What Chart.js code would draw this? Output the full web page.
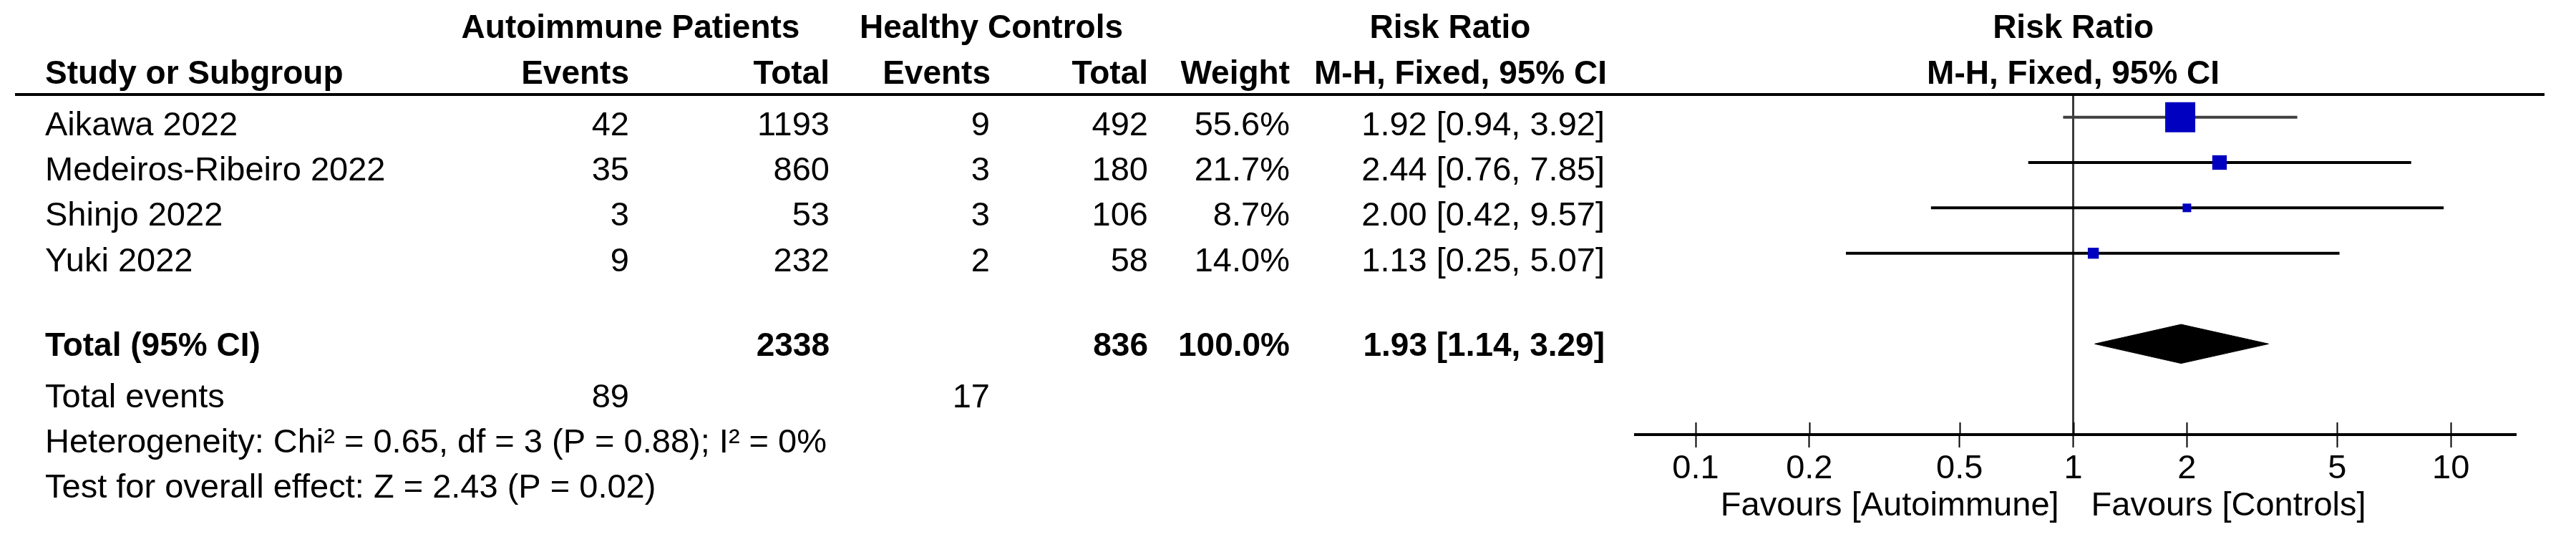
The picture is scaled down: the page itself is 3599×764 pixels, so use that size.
<!DOCTYPE html>
<html>
<head>
<meta charset="utf-8">
<title>Risk Ratio forest plot</title>
<script src="https://cdn.jsdelivr.net/npm/chart.js@4.4.1/dist/chart.umd.min.js"></script>
<style>
    html, body { margin: 0; padding: 0; background: #fff; }
    #wrap { width: 3599px; height: 764px; position: relative; }
</style>
</head>
<body>
<div id="wrap"><canvas id="forestChart"></canvas></div>
<script>
const studies = ['Aikawa 2022', 'Medeiros-Ribeiro 2022', 'Shinjo 2022', 'Yuki 2022'];
const autoEvents = [42, 35, 3, 9];
const autoTotal = [1193, 860, 53, 232];
const ctrlEvents = [9, 3, 3, 2];
const ctrlTotal = [492, 180, 106, 58];
const weights = [55.6, 21.7, 8.7, 14.0];
const riskRatio = [1.92, 2.44, 2.00, 1.13];
const ciLower = [0.94, 0.76, 0.42, 0.25];
const ciUpper = [3.92, 7.85, 9.57, 5.07];

// pooled estimate: [estimate, lower, upper]
const pooled = [1.93, 1.14, 3.29];
const tickValues = [0.1, 0.2, 0.5, 1, 2, 5, 10];
const tickLabels = ['0.1', '0.2', '0.5', '1', '2', '5', '10'];
const footerNotes = [
    'Heterogeneity: Chi\u00b2 = 0.65, df = 3 (P = 0.88); I\u00b2 = 0%',
    'Test for overall effect: Z = 2.43 (P = 0.02)'
];
const favourLabels = ['Favours [Autoimmune]', 'Favours [Controls]'];

const FONT = '"Liberation Sans", Arial, sans-serif';
const bold = `bold 46px ${FONT}`;
const normal = `47px ${FONT}`;
const TOTAL_ROW = 5;

const sum = arr => arr.reduce((a, b) => a + b, 0);
const fmt = v => v.toFixed(2);

// --- table text + small tick marks above the axis ---
const forestTable = {
    id: 'forestTable',
    afterDraw(chart) {
        const { ctx, scales: { x, y } } = chart;
        const one = x.getPixelForValue(1);
        const put = (txt, px, py, align, font) => {
            ctx.font = font;
            ctx.textAlign = align;
            ctx.fillText(txt, px, py);
        };
        ctx.save();
        ctx.fillStyle = '#000';
        ctx.textBaseline = 'alphabetic';

        // headers
        put('Autoimmune Patients', 881, 53, 'center', bold);
        put('Healthy Controls', 1385, 53, 'center', bold);
        put('Risk Ratio', 2026, 53, 'center', bold);
        put('Risk Ratio', one, 53, 'center', bold);
        put('Study or Subgroup', 63, 117, 'left', bold);
        put('Events', 879, 117, 'right', bold);
        put('Total', 1159, 117, 'right', bold);
        put('Events', 1384, 117, 'right', bold);
        put('Total', 1604, 117, 'right', bold);
        put('Weight', 1802, 117, 'right', bold);
        put('M-H, Fixed, 95% CI', 2245, 117, 'right', bold);
        put('M-H, Fixed, 95% CI', one, 117, 'center', bold);
        ctx.fillRect(21, 130, 3534, 4);

        // study rows
        studies.forEach((s, i) => {
            const py = y.getPixelForValue(i) + 25;
            put(s, 63, py, 'left', normal);
            put(String(autoEvents[i]), 879, py, 'right', normal);
            put(String(autoTotal[i]), 1159, py, 'right', normal);
            put(String(ctrlEvents[i]), 1383, py, 'right', normal);
            put(String(ctrlTotal[i]), 1604, py, 'right', normal);
            put(weights[i].toFixed(1) + '%', 1802, py, 'right', normal);
            put(`${fmt(riskRatio[i])} [${fmt(ciLower[i])}, ${fmt(ciUpper[i])}]`, 2242, py, 'right', normal);
        });

        // total row
        let py = y.getPixelForValue(TOTAL_ROW) + 17;
        put('Total (95% CI)', 63, py, 'left', bold);
        put(String(sum(autoTotal)), 1159, py, 'right', bold);
        put(String(sum(ctrlTotal)), 1604, py, 'right', bold);
        put(sum(weights).toFixed(1) + '%', 1802, py, 'right', bold);
        put(`${fmt(pooled[0])} [${fmt(pooled[1])}, ${fmt(pooled[2])}]`, 2242, py, 'right', bold);

        py = y.getPixelForValue(TOTAL_ROW + 1) + 25;
        put('Total events', 63, py, 'left', normal);
        put(String(sum(autoEvents)), 879, py, 'right', normal);
        put(String(sum(ctrlEvents)), 1383, py, 'right', normal);
        footerNotes.forEach((t, k) => {
            put(t, 63, y.getPixelForValue(TOTAL_ROW + 2 + k) + 25, 'left', normal);
        });

        // favours labels under the axis
        put(favourLabels[0], one - 20, 720, 'right', normal);
        put(favourLabels[1], one + 25, 720, 'left', normal);

        // upper half of the axis ticks
        ctx.strokeStyle = '#000';
        ctx.lineWidth = 2;
        const axisY = chart.chartArea.bottom;
        tickValues.forEach(v => {
            const px = Math.round(x.getPixelForValue(v)) + 0.5;
            ctx.beginPath();
            ctx.moveTo(px, axisY - 17);
            ctx.lineTo(px, axisY);
            ctx.stroke();
        });
        ctx.restore();
    }
};

const ctx = document.getElementById('forestChart').getContext('2d');

const ciDatasets = studies.map((s, i) => ({
    label: s + ' CI',
    data: [{ x: ciLower[i], y: i }, { x: ciUpper[i], y: i }],
    showLine: true,
    borderColor: i === 0 ? '#404040' : '#000',
    borderWidth: 4,
    pointRadius: 0,
    order: 2
}));

new Chart(ctx, {
    type: 'scatter',
    data: {
        datasets: [
            {
                label: 'Risk Ratio',
                data: riskRatio.map((r, i) => ({ x: r, y: i })),
                pointStyle: 'rect',
                // square side grows with study weight
                pointRadius: weights.map(w => (6.4 + 0.64 * w) / 2 / Math.SQRT1_2),
                backgroundColor: '#0000C0',
                borderWidth: 0,
                order: 0
            },
            {
                label: 'Total (95% CI)',
                data: [
                    { x: pooled[1], y: TOTAL_ROW },
                    { x: pooled[0], y: TOTAL_ROW - 0.43 },
                    { x: pooled[2], y: TOTAL_ROW },
                    { x: pooled[0], y: TOTAL_ROW + 0.43 },
                    { x: pooled[1], y: TOTAL_ROW }
                ],
                showLine: true,
                fill: 'shape',
                backgroundColor: '#000',
                borderColor: '#000',
                borderWidth: 1,
                pointRadius: 0,
                tension: 0,
                order: 1
            },
            ...ciDatasets
        ]
    },
    options: {
        responsive: true,
        maintainAspectRatio: false,
        animation: false,
        layout: { padding: { left: 2285, right: 85, top: 132, bottom: 0 } },
        plugins: {
            legend: { display: false },
            tooltip: { enabled: false }
        },
        scales: {
            x: {
                type: 'logarithmic',
                position: 'bottom',
                min: 0.0693,
                max: 14.8,
                bounds: 'data',
                afterBuildTicks: s => { s.ticks = tickValues.map(v => ({ value: v })); },
                afterFit: s => { s.height = 157; },
                grid: {
                    color: c => (c.tick && c.tick.value === 1) ? '#3c3c3c' : 'rgba(0,0,0,0)',
                    lineWidth: 3,
                    drawTicks: true,
                    tickLength: 18,
                    tickColor: '#000',
                    tickWidth: 2
                },
                border: { display: true, color: '#000', width: 4 },
                ticks: {
                    color: '#000',
                    font: { family: FONT, size: 47 },
                    padding: 2,
                    autoSkip: false,
                    maxRotation: 0,
                    callback: (v, i) => tickLabels[i]
                }
            },
            y: {
                type: 'linear',
                display: false,
                reverse: true,
                min: -0.5,
                max: 7
            }
        }
    },
    plugins: [forestTable]
});
</script>
</body>
</html>
